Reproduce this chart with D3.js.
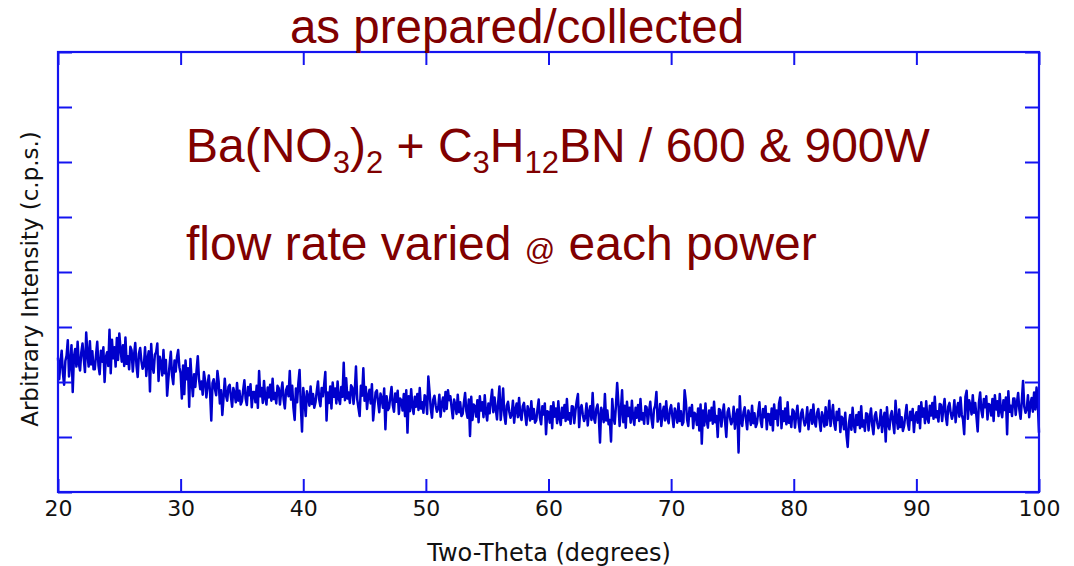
<!DOCTYPE html>
<html>
<head>
<meta charset="utf-8">
<script src="https://cdn.jsdelivr.net/npm/d3@7"></script>
<style>
  body { margin: 0; background: #fff; }
  svg { display: block; }
</style>
</head>
<body>
<svg id="chart" width="1074" height="566"></svg>
<script>
// Powder XRD scan: two-theta from 20 to 100 degrees, one reading every 0.1 degree
const thetaStart = 20;
const thetaStep = 0.1;

// Intensity readings (arbitrary units), one row per degree
const intensity = [
  2.44, 2.05, 2.35, 2.57, 2.16, 1.95, 2.38, 2.48, 2.76, 2.10,
  2.34, 2.67, 1.82, 2.46, 2.60, 2.28, 2.73, 2.33, 2.21, 2.54,
  2.70, 2.43, 2.18, 2.90, 2.51, 2.28, 2.74, 2.32, 2.56, 2.23,
  2.23, 2.49, 2.73, 2.30, 2.14, 2.57, 2.37, 2.63, 2.00, 2.45,
  2.54, 2.29, 2.95, 2.16, 2.77, 2.43, 2.63, 2.28, 2.80, 2.40,
  2.88, 2.60, 2.37, 2.67, 2.29, 2.81, 2.33, 2.47, 2.23, 2.64,
  2.58, 2.19, 2.49, 2.71, 2.30, 2.09, 2.52, 2.62, 2.38, 2.24,
  2.30, 2.63, 2.11, 2.42, 2.56, 1.83, 2.69, 2.29, 2.17, 2.50,
  2.54, 2.70, 2.02, 2.46, 2.35, 2.12, 2.58, 2.16, 2.40, 1.75,
  2.05, 2.31, 2.55, 2.12, 1.96, 2.39, 2.19, 2.45, 2.58, 2.27,
  2.16, 1.70, 2.30, 1.78, 2.39, 2.05, 2.25, 1.55, 2.42, 2.02,
  1.74, 2.14, 1.91, 2.21, 2.47, 2.05, 1.87, 2.01, 1.77, 2.18,
  2.02, 1.72, 1.95, 2.12, 1.81, 1.30, 1.98, 2.05, 1.87, 1.76,
  2.20, 2.01, 1.61, 1.85, 1.40, 1.71, 2.06, 1.75, 1.66, 1.91,
  1.95, 1.74, 1.55, 1.89, 1.80, 1.63, 1.98, 1.66, 1.84, 1.59,
  1.65, 1.85, 2.03, 1.70, 1.58, 1.91, 1.76, 1.96, 1.54, 1.82,
  1.82, 1.63, 1.93, 1.53, 2.20, 1.74, 1.89, 1.62, 2.02, 1.71,
  1.59, 1.90, 1.72, 1.95, 1.66, 2.06, 1.69, 1.80, 1.61, 1.93,
  1.89, 1.59, 1.82, 1.99, 1.68, 1.52, 1.85, 1.92, 1.74, 2.20,
  1.68, 1.93, 1.53, 1.31, 1.88, 1.63, 1.98, 2.22, 1.58, 1.10,
  1.89, 1.68, 1.38, 1.83, 1.74, 1.57, 1.92, 1.60, 1.78, 1.53,
  1.63, 1.83, 2.01, 1.68, 1.56, 1.89, 1.74, 1.94, 2.18, 1.30,
  1.81, 1.62, 1.92, 1.52, 1.99, 1.73, 1.88, 1.61, 2.01, 1.70,
  1.60, 1.91, 1.73, 2.35, 1.67, 2.07, 1.70, 1.81, 1.62, 1.94,
  1.90, 1.60, 1.83, 2.28, 1.69, 1.53, 1.38, 1.93, 1.75, 2.25,
  1.66, 1.91, 1.51, 1.75, 1.86, 1.61, 1.96, 1.30, 1.56, 1.81,
  1.85, 1.64, 1.45, 1.79, 1.70, 1.53, 1.88, 1.14, 1.74, 1.49,
  1.53, 1.73, 1.91, 1.58, 1.46, 1.79, 1.64, 1.84, 1.42, 1.70,
  1.67, 1.48, 1.78, 1.38, 1.85, 1.08, 1.74, 1.47, 1.87, 1.56,
  1.42, 1.73, 1.55, 1.78, 1.49, 1.89, 1.52, 1.63, 1.44, 1.76,
  1.72, 1.42, 2.10, 1.82, 1.51, 1.35, 1.68, 1.75, 1.57, 1.46,
  1.52, 1.77, 1.37, 1.61, 1.72, 1.47, 1.82, 1.51, 1.85, 1.67,
  1.74, 1.53, 1.34, 1.68, 1.59, 1.42, 1.77, 1.45, 1.63, 1.38,
  1.42, 1.62, 1.80, 1.47, 1.35, 1.68, 1.02, 1.73, 1.31, 1.59,
  1.56, 1.37, 1.67, 1.27, 1.74, 1.48, 1.63, 1.36, 1.76, 1.45,
  1.30, 1.61, 1.43, 1.66, 1.86, 1.45, 1.72, 1.51, 1.32, 1.64,
  1.92, 1.31, 1.54, 1.88, 1.40, 1.24, 1.57, 1.64, 1.46, 1.35,
  1.41, 1.66, 1.26, 1.50, 1.61, 1.36, 1.71, 1.40, 1.31, 1.56,
  1.62, 1.41, 1.22, 1.56, 1.47, 1.30, 1.65, 1.33, 1.51, 1.26,
  1.30, 1.50, 1.68, 1.35, 1.23, 1.56, 1.41, 1.61, 1.05, 1.47,
  1.45, 1.26, 1.56, 1.16, 1.63, 1.37, 1.52, 1.25, 1.65, 1.34,
  1.22, 1.53, 1.35, 1.58, 1.29, 1.69, 1.32, 1.43, 1.24, 1.56,
  1.55, 1.25, 1.48, 1.65, 1.78, 1.18, 1.51, 1.58, 1.40, 1.29,
  1.36, 1.61, 1.21, 1.45, 1.56, 1.31, 1.80, 1.35, 1.26, 1.51,
  1.59, 1.38, 0.90, 1.53, 1.44, 1.27, 1.78, 1.30, 1.48, 1.23,
  1.31, 0.92, 1.69, 1.36, 1.24, 1.57, 1.98, 1.62, 1.20, 1.48,
  1.85, 1.27, 1.57, 1.17, 1.64, 1.38, 1.53, 1.26, 1.66, 1.35,
  1.22, 1.53, 1.35, 1.58, 1.29, 1.69, 1.32, 1.43, 1.24, 1.56,
  1.54, 1.24, 1.47, 1.64, 1.33, 1.17, 1.50, 1.57, 1.82, 1.28,
  1.35, 1.60, 1.20, 1.44, 1.55, 1.30, 1.65, 1.34, 1.25, 1.50,
  1.58, 1.37, 1.18, 1.52, 1.43, 1.26, 1.61, 1.29, 1.47, 1.22,
  1.27, 1.85, 1.65, 1.32, 1.20, 1.53, 1.38, 1.58, 1.16, 1.44,
  1.41, 1.22, 1.52, 1.12, 1.59, 0.88, 1.48, 1.21, 1.61, 1.30,
  1.17, 1.48, 1.30, 1.53, 1.24, 1.64, 1.27, 1.38, 1.00, 1.51,
  1.49, 1.19, 1.42, 1.59, 1.28, 1.00, 1.45, 1.52, 1.34, 1.23,
  1.30, 1.55, 1.15, 1.39, 1.50, 0.72, 1.74, 1.29, 1.20, 1.45,
  1.54, 1.33, 1.14, 1.48, 1.39, 1.22, 1.57, 1.25, 1.43, 1.18,
  1.25, 1.45, 1.63, 1.30, 1.18, 1.51, 1.36, 1.56, 1.14, 1.42,
  1.41, 1.22, 1.52, 1.12, 1.59, 1.33, 1.48, 1.21, 1.61, 1.72,
  1.16, 1.47, 1.29, 1.52, 1.23, 1.63, 1.26, 1.37, 1.18, 1.50,
  1.47, 1.17, 1.40, 1.57, 1.26, 1.10, 1.43, 1.50, 1.32, 1.21,
  1.29, 1.54, 1.14, 1.38, 1.49, 1.24, 1.59, 1.28, 1.19, 1.44,
  1.51, 1.30, 1.11, 1.45, 1.36, 1.19, 1.54, 1.22, 1.40, 1.66,
  1.20, 1.40, 1.58, 1.25, 1.13, 1.46, 1.31, 1.51, 1.09, 1.37,
  1.33, 1.14, 1.44, 1.04, 0.82, 1.25, 1.40, 1.13, 1.53, 1.22,
  1.09, 1.40, 1.22, 1.45, 1.16, 1.56, 1.19, 1.30, 1.11, 1.43,
  1.42, 1.12, 1.35, 1.52, 1.21, 1.05, 1.38, 1.45, 1.27, 1.16,
  1.24, 1.49, 1.09, 1.33, 1.44, 0.92, 1.54, 1.23, 1.14, 1.39,
  1.47, 1.26, 1.07, 1.66, 1.32, 1.15, 1.50, 1.18, 1.36, 1.11,
  1.20, 1.40, 1.58, 1.25, 1.13, 1.46, 1.31, 1.51, 1.09, 1.37,
  1.45, 1.26, 1.56, 1.16, 1.63, 1.37, 1.52, 1.25, 1.65, 1.34,
  1.26, 1.57, 1.39, 1.62, 1.33, 1.73, 1.36, 1.47, 1.28, 1.60,
  1.59, 1.29, 1.52, 1.69, 1.38, 1.22, 1.55, 1.62, 1.44, 1.33,
  1.42, 1.67, 1.27, 1.51, 1.62, 1.37, 1.72, 1.41, 1.32, 1.05,
  1.73, 1.84, 1.33, 1.67, 1.58, 1.41, 1.76, 1.44, 1.62, 1.37,
  1.10, 1.63, 1.81, 1.48, 1.36, 1.69, 1.54, 1.74, 1.32, 1.60,
  1.58, 1.39, 1.69, 1.29, 1.76, 1.50, 1.65, 1.38, 1.78, 1.47,
  1.36, 1.67, 1.49, 1.72, 1.05, 1.83, 1.46, 1.57, 1.38, 1.70,
  1.70, 1.40, 1.63, 1.80, 1.49, 1.33, 1.66, 2.02, 1.55, 1.44,
  1.51, 1.76, 1.36, 1.60, 1.71, 1.46, 1.81, 1.50, 1.90, 1.62,
  1.08
];

const xTicks = [20, 30, 40, 50, 60, 70, 80, 90, 100];
const yTicks = [0, 1, 2, 3, 4, 5, 6, 7, 8];

const titleText = "as prepared/collected";
const xTitle = "Two-Theta (degrees)";
const yTitle = "Arbitrary Intensity (c.p.s.)";

const plot = { left: 58, right: 1039, top: 52, bottom: 492 };
const frameBlue = "#1414f0";
const traceBlue = "#0000cc";
const noteRed = "#800000";
const axisFont = "'DejaVu Sans', sans-serif";
const noteFont = "'Liberation Sans', Arial, sans-serif";

const svg = d3.select("#chart");

const x = d3.scaleLinear().domain([20, 100]).range([plot.left, plot.right]);
const y = d3.scaleLinear().domain([0, 8]).range([plot.bottom, plot.top]);

const points = intensity.map((v, i) => ({ t: thetaStart + i * thetaStep, v }));

// Diffraction trace
svg.append("path")
  .datum(points)
  .attr("fill", "none")
  .attr("stroke", traceBlue)
  .attr("stroke-width", 2.5)
  .attr("stroke-linejoin", "round")
  .attr("d", d3.line().x(d => x(d.t)).y(d => y(d.v)));

// Inward-pointing ticks on all four sides
function styleAxis(g) {
  g.select(".domain").remove();
  g.selectAll(".tick line").attr("stroke", frameBlue).attr("stroke-width", 2);
}

svg.append("g")
  .attr("transform", `translate(0,${plot.bottom})`)
  .call(d3.axisBottom(x).tickValues(xTicks).tickSize(-13).tickPadding(8).tickFormat(d3.format("d")))
  .call(styleAxis)
  .call(g => g.selectAll("text")
    .attr("fill", "#111")
    .attr("font-family", axisFont)
    .attr("font-size", 22));

svg.append("g")
  .attr("transform", `translate(0,${plot.top})`)
  .call(d3.axisTop(x).tickValues(xTicks).tickSize(-13).tickFormat(""))
  .call(styleAxis);

svg.append("g")
  .attr("transform", `translate(${plot.left},0)`)
  .call(d3.axisLeft(y).tickValues(yTicks).tickSize(-14).tickFormat(""))
  .call(styleAxis);

svg.append("g")
  .attr("transform", `translate(${plot.right},0)`)
  .call(d3.axisRight(y).tickValues(yTicks).tickSize(-14).tickFormat(""))
  .call(styleAxis);

// Plot frame
svg.append("rect")
  .attr("x", plot.left)
  .attr("y", plot.top)
  .attr("width", plot.right - plot.left)
  .attr("height", plot.bottom - plot.top)
  .attr("fill", "none")
  .attr("stroke", frameBlue)
  .attr("stroke-width", 2.2);

// Axis titles
svg.append("text")
  .attr("x", 549)
  .attr("y", 561)
  .attr("text-anchor", "middle")
  .attr("font-family", axisFont)
  .attr("font-size", 24)
  .attr("fill", "#111")
  .text(xTitle);

svg.append("text")
  .attr("transform", "translate(38,279) rotate(-90)")
  .attr("text-anchor", "middle")
  .attr("font-family", axisFont)
  .attr("font-size", 23)
  .attr("fill", "#111")
  .text(yTitle);

// Title above the frame
svg.append("text")
  .attr("x", 517)
  .attr("y", 43)
  .attr("text-anchor", "middle")
  .attr("font-family", noteFont)
  .attr("font-size", 47.5)
  .attr("fill", noteRed)
  .text(titleText);

// Sample notes inside the plot
const subShift = 11;
const formula = [
  { t: "Ba(NO" }, { t: "3", sub: true }, { t: ")" }, { t: "2", sub: true },
  { t: " + C" }, { t: "3", sub: true }, { t: "H" }, { t: "12", sub: true },
  { t: "BN / 600 & 900W" }
];
const line1 = svg.append("text")
  .attr("x", 186).attr("y", 162)
  .attr("font-family", noteFont)
  .attr("font-size", 48)
  .attr("fill", noteRed);
let wasSub = false;
formula.forEach(p => {
  const shift = (p.sub ? subShift : 0) - (wasSub ? subShift : 0);
  line1.append("tspan")
    .attr("font-size", p.sub ? 31 : 48)
    .attr("dy", shift)
    .text(p.t);
  wasSub = !!p.sub;
});

const line2 = svg.append("text")
  .attr("x", 186).attr("y", 260)
  .attr("font-family", noteFont)
  .attr("font-size", 48)
  .attr("fill", noteRed);
line2.append("tspan").text("flow rate varied ");
line2.append("tspan").attr("font-size", 30).text("@");
line2.append("tspan").text(" each power");
</script>
</body>
</html>
